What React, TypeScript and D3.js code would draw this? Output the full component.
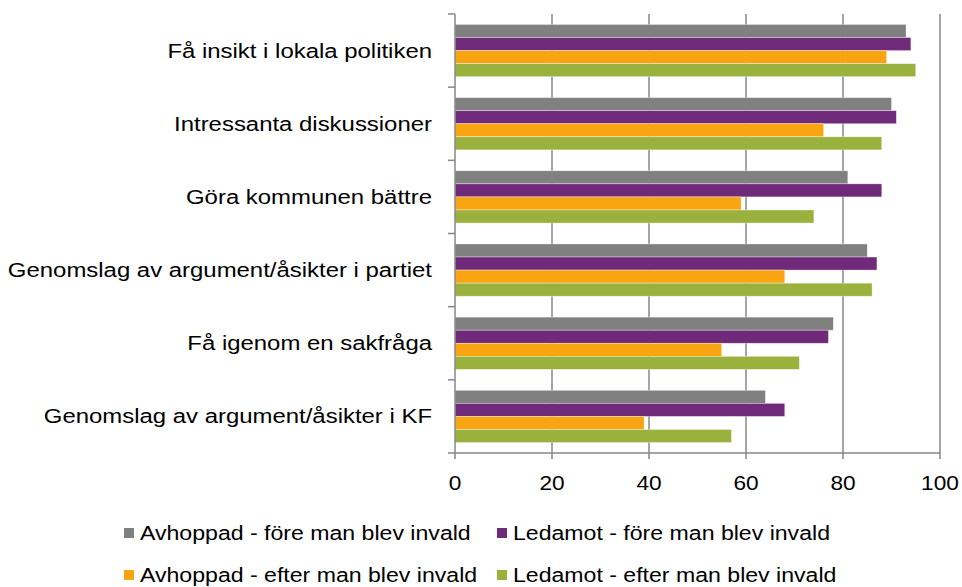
import { useEffect, useRef } from 'react';
import * as d3 from 'd3';

const categories = [
  'Få insikt i lokala politiken',
  'Intressanta diskussioner',
  'Göra kommunen bättre',
  'Genomslag av argument/åsikter i partiet',
  'Få igenom en sakfråga',
  'Genomslag av argument/åsikter i KF',
];

const seriesNames = [
  'Avhoppad - före man blev invald',
  'Ledamot - före man blev invald',
  'Avhoppad - efter man blev invald',
  'Ledamot - efter man blev invald',
];

const avhoppadFore = [93, 90, 81, 85, 78, 64];
const ledamotFore = [94, 91, 88, 87, 77, 68];
const avhoppadEfter = [89, 76, 59, 68, 55, 39];
const ledamotEfter = [95, 88, 74, 86, 71, 57];

const xTicks = [0, 20, 40, 60, 80, 100];
const colors = ['#808080', '#702A7A', '#F9A511', '#9BB13E'];

const WIDTH = 962;
const HEIGHT = 587;
const FONT = 'Liberation Sans, Arial, sans-serif';
const SX = 1.14; // the picture is a bit stretched sideways

export default function App() {
  const svgRef = useRef<SVGSVGElement>(null);

  useEffect(() => {
    if (!svgRef.current) return;
    const svg = d3.select(svgRef.current);
    svg.selectAll('*').remove();

    const values = [avhoppadFore, ledamotFore, avhoppadEfter, ledamotEfter];

    const x = d3.scaleLinear().domain([0, 100]).range([455, 940]);
    const y = d3.scaleBand<string>().domain(categories).range([14, 453]);
    const inner = d3
      .scaleBand<number>()
      .domain(d3.range(seriesNames.length))
      .range([0, y.bandwidth()])
      .paddingOuter(0.8);

    const axisColor = '#878787';

    // vertical gridlines
    svg.append('g')
      .selectAll('line')
      .data(xTicks.slice(1))
      .join('line')
      .attr('x1', d => x(d)).attr('x2', d => x(d))
      .attr('y1', y.range()[0]).attr('y2', y.range()[1])
      .attr('stroke', axisColor).attr('stroke-width', 1.5);

    // bars
    categories.forEach((cat, ci) => {
      const g = svg.append('g').attr('transform', `translate(0,${y(cat)})`);
      values.forEach((vals, si) => {
        g.append('rect')
          .attr('x', x(0))
          .attr('y', inner(si)!)
          .attr('width', x(vals[ci]) - x(0))
          .attr('height', inner.bandwidth())
          .attr('fill', colors[si])
          .attr('stroke', 'rgba(255,255,255,0.6)')
          .attr('stroke-width', 0.6);
      });
    });

    // left axis + ticks
    svg.append('line')
      .attr('x1', x(0)).attr('x2', x(0))
      .attr('y1', y.range()[0]).attr('y2', y.range()[1])
      .attr('stroke', axisColor).attr('stroke-width', 1.5);
    const bounds = categories.map(c => y(c)!).concat([y.range()[1]]);
    svg.append('g')
      .selectAll('line')
      .data(bounds)
      .join('line')
      .attr('x1', x(0) - 7).attr('x2', x(0))
      .attr('y1', d => d).attr('y2', d => d)
      .attr('stroke', axisColor).attr('stroke-width', 1.5);

    // bottom axis + ticks
    const by = y.range()[1];
    svg.append('line')
      .attr('x1', x(0)).attr('x2', x(100))
      .attr('y1', by).attr('y2', by)
      .attr('stroke', axisColor).attr('stroke-width', 1.5);
    svg.append('g')
      .selectAll('line')
      .data(xTicks)
      .join('line')
      .attr('x1', d => x(d)).attr('x2', d => x(d))
      .attr('y1', by).attr('y2', by + 6)
      .attr('stroke', axisColor).attr('stroke-width', 1.5);

    // tick labels
    svg.append('g')
      .selectAll('text')
      .data(xTicks)
      .join('text')
      .attr('transform', d => `translate(${x(d)},490) scale(1.08,1)`)
      .attr('text-anchor', 'middle')
      .attr('font-family', FONT).attr('font-size', '21px')
      .attr('fill', '#000')
      .text(d => String(d));

    // category labels
    svg.append('g')
      .selectAll('text')
      .data(categories)
      .join('text')
      .attr('transform', d => `translate(432,${y(d)! + y.bandwidth() / 2 + 7}) scale(${SX},1)`)
      .attr('text-anchor', 'end')
      .attr('font-family', FONT).attr('font-size', '21px')
      .attr('fill', '#000')
      .text(d => d);

    // legend
    const legendPos = [
      { x: 124, y: 540 },
      { x: 497, y: 540 },
      { x: 124, y: 582 },
      { x: 497, y: 582 },
    ];
    seriesNames.forEach((name, i) => {
      const p = legendPos[i];
      svg.append('rect')
        .attr('x', p.x).attr('y', p.y - 12)
        .attr('width', 10).attr('height', 10)
        .attr('fill', colors[i]);
      svg.append('text')
        .attr('transform', `translate(${p.x + 16},${p.y}) scale(1.1,1)`)
        .attr('font-family', FONT).attr('font-size', '21px')
        .attr('fill', '#000')
        .text(name);
    });
  }, []);

  return (
    <svg
      ref={svgRef}
      width={WIDTH}
      height={HEIGHT}
      style={{ position: 'absolute', left: 0, top: 0, background: '#fff' }}
    />
  );
}
